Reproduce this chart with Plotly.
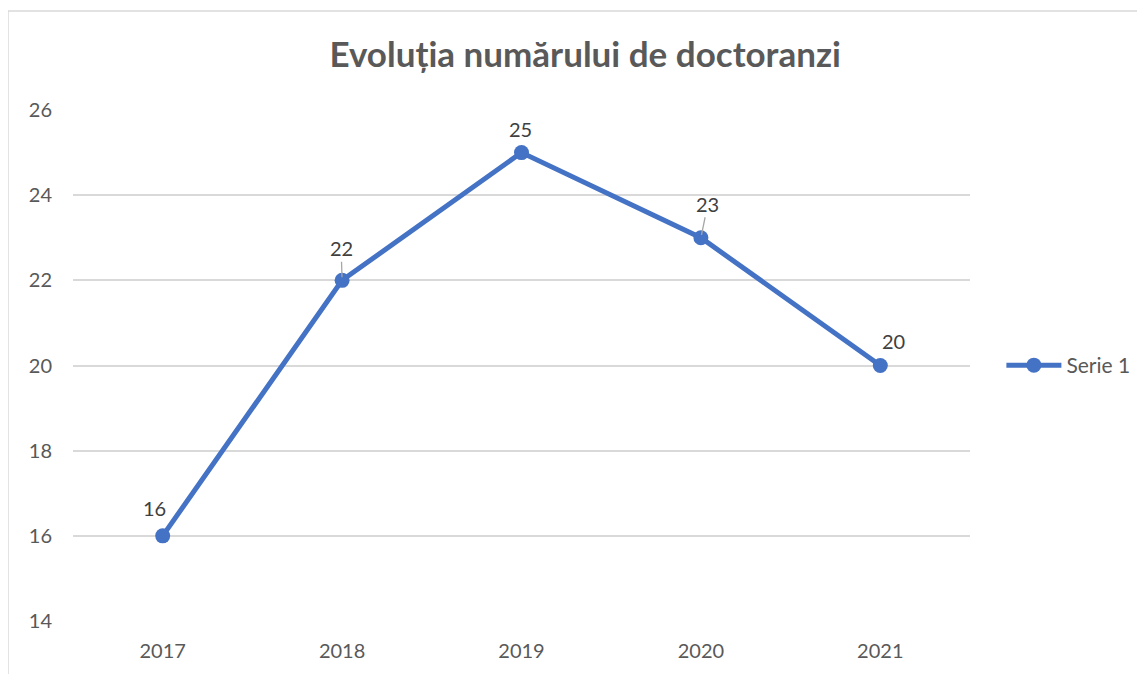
import plotly.graph_objects as go

# date
ani = ["2017", "2018", "2019", "2020", "2021"]
doctoranzi = [16, 22, 25, 23, 20]
serie_nume = "Serie 1"
titlu = "Evoluția numărului de doctoranzi"

C_LINE = "#4472C4"
C_GRID = "#D9D9D9"
C_TEXT = "#595959"
C_LABEL = "#404040"
FONT = "Lato"

# decalaje etichete (px) si linii de legatura
_offsets = [(-8, -28), (-1, -32), (-1, -24), (7, -34), (13, -25)]
_leader = [False, True, False, True, False]

fig = go.Figure()
fig.add_trace(go.Scatter(
    x=ani,
    y=doctoranzi,
    name=serie_nume,
    mode="lines+markers",
    line=dict(color=C_LINE, width=5),
    marker=dict(color=C_LINE, size=15),
))

annotations = []
for i, (v, (dx, dy), lead) in enumerate(zip(doctoranzi, _offsets, _leader)):
    annotations.append(dict(
        x=i, y=v, xref="x", yref="y",
        text=str(v),
        showarrow=True,
        arrowhead=0,
        arrowwidth=1.3,
        arrowcolor="#A6A6A6" if lead else "rgba(0,0,0,0)",
        standoff=3,
        ax=dx, ay=dy,
        font=dict(family=FONT, size=20, color=C_LABEL),
    ))

# chenarul graficului
fig.add_shape(
    type="rect", xref="paper", yref="paper",
    x0=-0.0725, x1=1.21, y0=-0.13, y1=1.1937,
    line=dict(color=C_GRID, width=1.5),
    fillcolor="rgba(0,0,0,0)",
    layer="below",
)

fig.update_layout(
    width=1145,
    height=674,
    paper_bgcolor="white",
    plot_bgcolor="white",
    margin=dict(l=65, r=183, t=102, b=61),
    font=dict(family=FONT, color=C_TEXT, size=20),
    title=dict(
        text="<b>" + titlu + "</b>",
        x=0.571, xref="paper", xanchor="center",
        y=1 - 47 / 674, yref="container", yanchor="middle",
        font=dict(family=FONT, size=35, color=C_TEXT),
    ),
    showlegend=True,
    legend=dict(
        x=1.035, y=0.5, xanchor="left", yanchor="middle",
        font=dict(family=FONT, size=21, color=C_TEXT),
        bgcolor="rgba(0,0,0,0)",
        itemwidth=55,
    ),
    xaxis=dict(
        type="category",
        range=[-0.5, 4.5],
        showgrid=False,
        showline=False,
        zeroline=False,
        ticks="",
        ticklabelstandoff=16,
        tickfont=dict(family=FONT, size=20, color=C_TEXT),
    ),
    yaxis=dict(
        range=[14, 26],
        dtick=2,
        showgrid=True,
        gridcolor=C_GRID,
        gridwidth=1.5,
        zeroline=False,
        showline=False,
        ticks="",
        ticklabelstandoff=20,
        tickfont=dict(family=FONT, size=20, color=C_TEXT),
    ),
    annotations=annotations,
)

fig.write_html("out.html")
